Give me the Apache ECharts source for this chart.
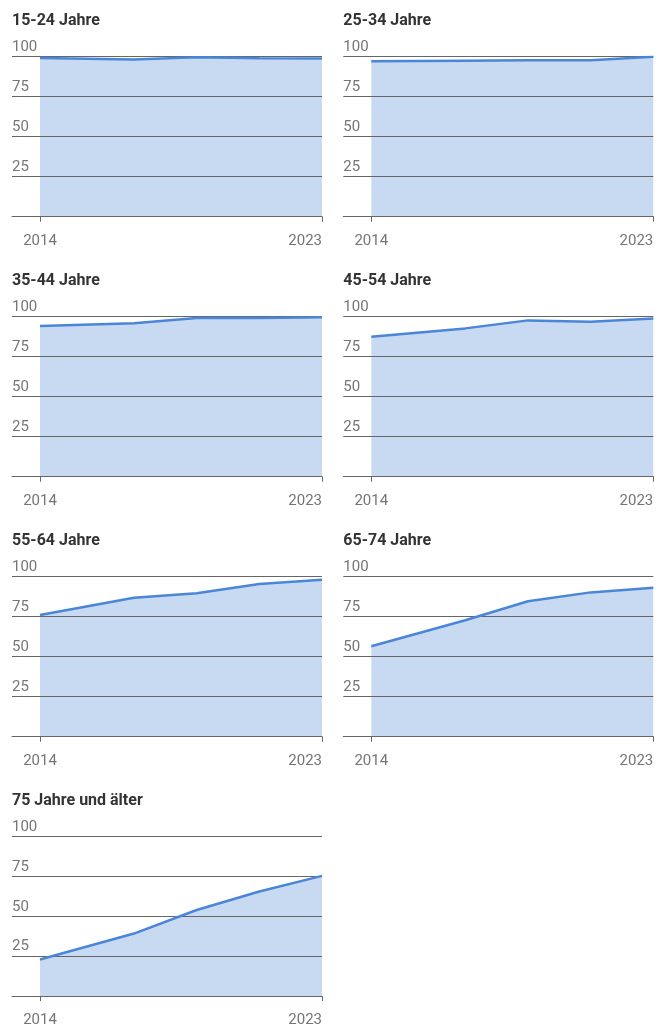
<!DOCTYPE html>
<html>
<head>
<meta charset="utf-8">
<script src="https://cdn.jsdelivr.net/npm/echarts@6/dist/echarts.min.js"></script>
<style>
html,body{margin:0;padding:0;background:#fff;}
#c{width:663px;height:1028px;}
</style>
</head>
<body>
<div id="c"></div>
<script>
var titles = ['15-24 Jahre','25-34 Jahre','35-44 Jahre','45-54 Jahre','55-64 Jahre','65-74 Jahre','75 Jahre und älter'];
var years = [2014, 2017, 2019, 2021, 2023];
var v1524 = [99.2, 98.3, 99.6, 99.0, 98.8];
var v2534 = [97.1, 97.5, 97.8, 97.8, 100];
var v3544 = [94.2, 95.9, 99.2, 99.2, 99.6];
var v4554 = [87.5, 92.7, 97.7, 96.9, 98.8];
var v5564 = [76.0, 86.9, 89.6, 95.4, 98.1];
var v6574 = [56.5, 72.8, 84.7, 90.2, 93.1];
var v75 = [22.9, 39.2, 54.0, 65.6, 75.4];
var xTickLabels = [2014, 2023];
var yTickLabels = [25, 50, 75, 100];

var allValues = [v1524, v2534, v3544, v4554, v5564, v6574, v75];

var chart = echarts.init(document.getElementById('c'), null, {renderer:'canvas'});
var grids = [], xAxes = [], yAxes = [], series = [], titleOpts = [];
var FONT = 'Roboto, "Noto Sans", sans-serif';
var gridW = 310, plotW = 282;
var xMin = 2023 - 9 * gridW / plotW;

allValues.forEach(function(vals, i){
  var col = i % 2, row = Math.floor(i / 2);
  var left = 12 + col * 331.3;
  var top = 56.7 + row * 260;
  grids.push({left: left, top: top, width: gridW, height: 160, containLabel:false});
  titleOpts.push({
    text: titles[i], left: left, top: 13 + row * 260, padding: 0,
    textStyle: {fontFamily: FONT, fontSize: 16, fontWeight: 'bold', color: '#333'}
  });
  xAxes.push({
    type: 'value', gridIndex: i, min: xMin, max: 2023,
    splitLine: {show:false},
    axisLine: {show:true, lineStyle:{color:'#666', width:1}},
    axisTick: {show:true, customValues: xTickLabels, length:5, lineStyle:{color:'#666'}},
    axisLabel: {show:true, customValues: xTickLabels, fontFamily: FONT, fontSize: 15, color:'#757575', margin: 17,
      alignMaxLabel: 'right', showMinLabel: true, showMaxLabel: true,
      formatter: function(v){ return String(v); }}
  });
  yAxes.push({
    type: 'value', gridIndex: i, min: 0, max: 100, interval: 25,
    axisLine: {show:false}, axisTick: {show:false},
    splitLine: {show:true, lineStyle:{color:'#666', width:1}},
    axisLabel: {show:true, inside:true, margin:0, customValues: yTickLabels,
      fontFamily: FONT, fontSize: 15, color:'#757575', verticalAlign:'bottom', padding:[0,0,2,0], align:'left'}
  });
  var d = years.map(function(y, k){ return [y, vals[k]]; });
  series.push({
    type:'line', xAxisIndex:i, yAxisIndex:i, data:d, z:-1, silent:true,
    symbol:'none', lineStyle:{width:0, opacity:0},
    areaStyle:{color:'#c8daf2', opacity:1}
  });
  series.push({
    type:'line', xAxisIndex:i, yAxisIndex:i, data:d, z:5, silent:true,
    symbol:'none', lineStyle:{width:2.5, color:'#4a86d8'}
  });
});

chart.setOption({
  animation:false,
  title: titleOpts,
  grid: grids,
  xAxis: xAxes,
  yAxis: yAxes,
  series: series
});
</script>
</body>
</html>
